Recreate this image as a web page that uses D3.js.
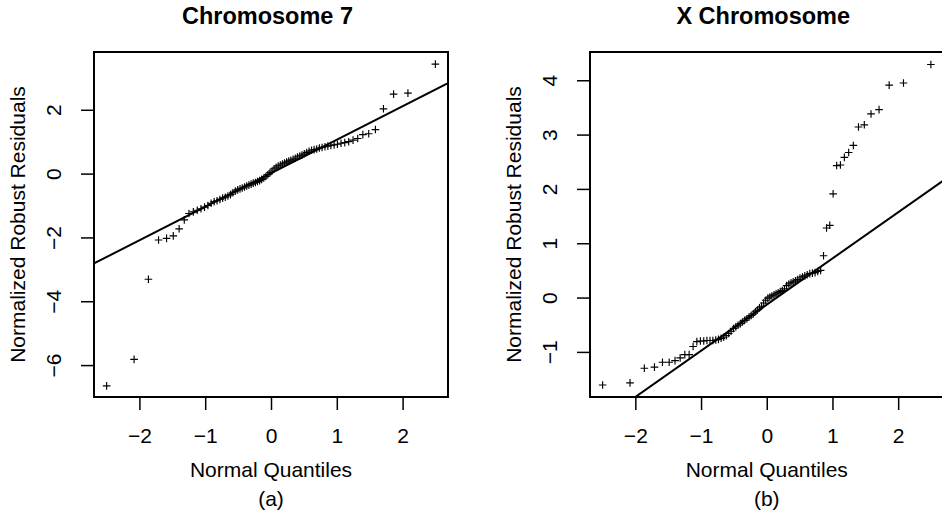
<!DOCTYPE html>
<html>
<head>
<meta charset="utf-8">
<script src="https://cdn.jsdelivr.net/npm/d3@7"></script>
<style>
  html, body { margin: 0; padding: 0; background: #fff; }
  svg { display: block; }
  text { font-family: "Liberation Sans", Arial, Helvetica, sans-serif; fill: #000; }
</style>
</head>
<body>
<svg id="chart" width="942" height="513"></svg>
<script>
// Theoretical normal quantiles for n = 80 (shared by both panels)
const normalQuantiles = [
  -2.498, -2.081, -1.863, -1.709, -1.587, -1.485, -1.396, -1.318, -1.247, -1.181,
  -1.121, -1.064, -1.010, -0.959, -0.910, -0.864, -0.820, -0.776, -0.735, -0.695,
  -0.655, -0.616, -0.579, -0.543, -0.506, -0.471, -0.437, -0.402, -0.369, -0.336,
  -0.302, -0.270, -0.237, -0.205, -0.173, -0.142, -0.110, -0.078, -0.047, -0.016,
   0.016,  0.047,  0.078,  0.110,  0.142,  0.173,  0.205,  0.237,  0.270,  0.302,
   0.336,  0.369,  0.402,  0.437,  0.471,  0.506,  0.543,  0.579,  0.616,  0.655,
   0.695,  0.735,  0.776,  0.820,  0.864,  0.910,  0.959,  1.010,  1.064,  1.121,
   1.181,  1.247,  1.318,  1.396,  1.485,  1.587,  1.709,  1.863,  2.081,  2.498
];

// Sorted normalized robust residuals, chromosome 7
const chr7Residuals = [
  -6.65, -5.82, -3.31, -2.08, -2.03, -1.95, -1.73, -1.45, -1.25, -1.20,
  -1.15, -1.10, -1.05, -1.00, -0.93, -0.88, -0.85, -0.81, -0.77, -0.74,
  -0.70, -0.66, -0.60, -0.55, -0.51, -0.48, -0.45, -0.42, -0.39, -0.36,
  -0.33, -0.30, -0.28, -0.25, -0.22, -0.18, -0.14, -0.09, -0.03,  0.03,
   0.08,  0.15,  0.20,  0.24,  0.27,  0.30,  0.33,  0.36,  0.39,  0.42,
   0.45,  0.48,  0.52,  0.55,  0.58,  0.62,  0.66,  0.70,  0.73,  0.75,
   0.77,  0.80,  0.82,  0.84,  0.86,  0.88,  0.90,  0.92,  0.95,  0.97,
   1.00,  1.05,  1.10,  1.22,  1.25,  1.38,  2.03,  2.49,  2.52,  3.43
];

// Sorted normalized robust residuals, X chromosome
const chrXResiduals = [
  -1.61, -1.57, -1.30, -1.28, -1.19, -1.19, -1.16, -1.11, -1.05, -1.05,
  -0.90, -0.81, -0.80, -0.80, -0.79, -0.79, -0.79, -0.78, -0.77, -0.75,
  -0.73, -0.70, -0.66, -0.62, -0.57, -0.54, -0.51, -0.48, -0.45, -0.42,
  -0.39, -0.36, -0.33, -0.30, -0.26, -0.23, -0.19, -0.16, -0.10, -0.05,
  -0.01,  0.01,  0.03,  0.05,  0.07,  0.09,  0.11,  0.13,  0.16,  0.22,
   0.25,  0.27,  0.29,  0.31,  0.33,  0.36,  0.38,  0.40,  0.42,  0.44,
   0.45,  0.46,  0.48,  0.50,  0.77,  1.28,  1.33,  1.91,  2.43,  2.44,
   2.58,  2.67,  2.80,  3.14,  3.18,  3.38,  3.46,  3.91,  3.95,  4.29
];

// Reference lines: [intercept, slope]
const chr7Fit = [0.01, 1.05];
const chrXFit = [-0.13, 0.85];

// Tick values
const xTicks = [-2, -1, 0, 1, 2];
const chr7YTicks = [-6, -4, -2, 0, 2];
const chrXYTicks = [-1, 0, 1, 2, 3, 4];

// Panel text
const panelTitles = ["Chromosome 7", "X Chromosome"];
const panelTags = ["(a)", "(b)"];
const xLabel = "Normal Quantiles";
const yLabel = "Normalized Robust Residuals";

const svg = d3.select("#chart");
const fmt = v => (v < 0 ? "\u2212" + Math.abs(v) : String(v));

const panels = [
  { left: 94,  right: 448,   xDomain: [-2.69, 2.69], yDomain: [-7.0, 3.81],
    y: chr7Residuals, fit: chr7Fit, yTicks: chr7YTicks },
  { left: 590, right: 943.5, xDomain: [-2.69, 2.69], yDomain: [-1.83, 4.52],
    y: chrXResiduals, fit: chrXFit, yTicks: chrXYTicks }
];
const plotTop = 52, plotBottom = 397;
const labelSize = 21;

panels.forEach((p, k) => {
  const x = d3.scaleLinear().domain(p.xDomain).range([p.left, p.right]);
  const y = d3.scaleLinear().domain(p.yDomain).range([plotBottom, plotTop]);
  const g = svg.append("g");
  const cx = (p.left + p.right) / 2;
  const cy = (plotTop + plotBottom) / 2;

  // clip region for the reference line
  const clipId = "clip" + k;
  svg.append("defs").append("clipPath").attr("id", clipId)
    .append("rect")
    .attr("x", p.left).attr("y", plotTop)
    .attr("width", p.right - p.left).attr("height", plotBottom - plotTop);

  // reference line across the plotting region
  const [a, b] = p.fit;
  g.append("line")
    .attr("clip-path", `url(#${clipId})`)
    .attr("x1", x(p.xDomain[0])).attr("y1", y(a + b * p.xDomain[0]))
    .attr("x2", x(p.xDomain[1])).attr("y2", y(a + b * p.xDomain[1]))
    .attr("stroke", "#000").attr("stroke-width", 2);

  // "+" markers
  g.append("g").selectAll("path")
    .data(p.y.map((v, i) => [normalQuantiles[i], v]))
    .join("path")
    .attr("transform", d => `translate(${x(d[0])},${y(d[1])})`)
    .attr("d", "M-3.8,0H3.8M0,-3.8V3.8")
    .attr("stroke", "#000").attr("stroke-width", 1.15).attr("fill", "none");

  // frame
  g.append("rect")
    .attr("x", p.left).attr("y", plotTop)
    .attr("width", p.right - p.left).attr("height", plotBottom - plotTop)
    .attr("fill", "none").attr("stroke", "#000").attr("stroke-width", 2);

  // x axis
  const xAxis = d3.axisBottom(x).tickValues(xTicks).tickSize(13).tickPadding(0).tickFormat(fmt);
  const xa = g.append("g").attr("transform", `translate(0,${plotBottom})`).call(xAxis);
  xa.select(".domain").remove();
  xa.selectAll(".tick line").attr("stroke", "#000").attr("stroke-width", 1.5);
  xa.selectAll(".tick text")
    .attr("y", 46).attr("dy", null)
    .attr("font-size", labelSize).attr("font-family", null).attr("fill", "#000");

  // y axis (labels parallel to the axis)
  const yAxis = d3.axisLeft(y).tickValues(p.yTicks).tickSize(13).tickFormat(fmt);
  const ya = g.append("g").attr("transform", `translate(${p.left},0)`).call(yAxis);
  ya.select(".domain").remove();
  ya.selectAll(".tick line").attr("stroke", "#000").attr("stroke-width", 1.5);
  ya.selectAll(".tick text")
    .attr("x", null).attr("dy", null)
    .attr("transform", "translate(-33,0) rotate(-90)")
    .attr("text-anchor", "middle")
    .attr("font-size", labelSize).attr("font-family", null).attr("fill", "#000");

  // titles and labels
  g.append("text").attr("x", cx - 3.5).attr("y", 23.5)
    .attr("text-anchor", "middle").attr("font-size", 23.5).attr("font-weight", "bold")
    .text(panelTitles[k]);
  g.append("text").attr("x", cx).attr("y", 477)
    .attr("text-anchor", "middle").attr("font-size", labelSize)
    .text(xLabel);
  g.append("text").attr("x", cx).attr("y", 506)
    .attr("text-anchor", "middle").attr("font-size", labelSize)
    .text(panelTags[k]);
  g.append("text")
    .attr("transform", `translate(${p.left - 69},${cy}) rotate(-90)`)
    .attr("text-anchor", "middle").attr("font-size", labelSize)
    .text(yLabel);
});
</script>
</body>
</html>
